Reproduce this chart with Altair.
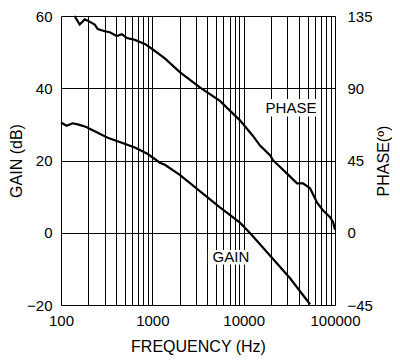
import altair as alt
import pandas as pd

# Gain curve (Hz, dB)
gain_freq = [100, 115, 134, 152, 173, 191, 217, 279, 325, 463, 643, 893, 1208, 1371,
             2000, 3313, 5495, 9100, 11720, 19410, 32200, 53300]
gain_db = [30.5, 29.6, 30.3, 30.0, 29.6, 29.2, 28.5, 27.1, 26.3, 24.9, 23.6, 21.8, 19.4, 18.8,
           16.0, 11.5, 7.0, 2.8, -0.1, -6.3, -12.6, -19.8]

# Phase curve (Hz, degrees)
phase_freq = [141, 160, 182, 196, 234, 253, 301, 342, 408, 463, 526, 643, 828, 987, 1208, 1371,
              2000, 3313, 5495, 9100, 12650, 15100, 19410, 20940, 29850, 38390, 44670, 53300,
              63700, 74100, 88300, 95300, 100000]
phase_deg = [135.0, 129.7, 132.9, 132.1, 129.7, 126.9, 125.5, 124.9, 122.5, 123.7, 121.3, 120.1,
             117.6, 114.6, 111.0, 108.6, 100.1, 90.5, 82.1, 70.0, 60.3, 54.3, 48.3, 45.2, 36.8,
             30.8, 30.8, 27.7, 18.7, 13.9, 9.7, 6.6, 1.8]

# Annotations
label_text = ["PHASE", "GAIN"]
label_freq = [33000, 7260]
label_db = [34.6, -6.7]
box_f1 = [15900, 4060]
box_f2 = [68700, 12970]
box_y1 = [32.2, -8.8]
box_y2 = [37.0, -4.8]

x_ticks = [m * d for d in [100, 1000, 10000] for m in range(1, 10)] + [100000]
gain_ticks = [-20, 0, 20, 40, 60]
phase_ticks = [-45, 0, 45, 90, 135]

FONT = "Liberation Sans, Arial, Helvetica, sans-serif"
H = 289

gain_df = pd.DataFrame({"f": gain_freq, "v": gain_db})
phase_df = pd.DataFrame({"f": phase_freq, "v": phase_deg})
lab_df = pd.DataFrame({"t": label_text, "f": label_freq, "v": label_db,
                       "f1": box_f1, "f2": box_f2, "y1": box_y1, "y2": box_y2})

x_scale = alt.Scale(type="log", domain=[100, 100000], nice=False)

x_enc = alt.X("f:Q", scale=x_scale,
              axis=alt.Axis(values=x_ticks, grid=True, gridColor="black", gridOpacity=1,
                            gridWidth=1, ticks=False, domain=False, format="d",
                            labelExpr="indexof([100,1000,10000,100000], datum.value) >= 0 ? datum.label : ''",
                            labelFlush=False, labelOverlap=False, labelPadding=8,
                            labelFontSize=15, labelFont=FONT, labelColor="black",
                            title="FREQUENCY (Hz)", titleFontSize=16, titleFont=FONT,
                            titleFontWeight="normal", titleColor="black",
                            titleY=41, titleBaseline="middle"))

y_gain_scale = alt.Scale(domain=[-20, 60], nice=False)

gain_line = alt.Chart(gain_df).mark_line(color="black", strokeWidth=2.2).encode(
    x=x_enc,
    y=alt.Y("v:Q", scale=y_gain_scale,
            axis=alt.Axis(values=gain_ticks, grid=True, gridColor="black", gridOpacity=1,
                          gridWidth=1, ticks=False, domain=False, labelFlush=False,
                          labelPadding=9, labelFontSize=15, labelFont=FONT, labelColor="black",
                          title="GAIN (dB)", titleFontSize=16, titleFont=FONT,
                          titleFontWeight="normal", titleColor="black",
                          titleX=-45, titleY=H / 2, titleBaseline="middle")),
)

boxes = alt.Chart(lab_df).mark_rect(color="white").encode(
    x=alt.X("f1:Q", scale=x_scale),
    x2="f2:Q",
    y=alt.Y("y1:Q", scale=y_gain_scale),
    y2="y2:Q",
)

labels = alt.Chart(lab_df).mark_text(fontSize=15, font=FONT, color="black").encode(
    x=alt.X("f:Q", scale=x_scale),
    y=alt.Y("v:Q", scale=y_gain_scale),
    text="t:N",
)

phase_line = alt.Chart(phase_df).mark_line(color="black", strokeWidth=2.2).encode(
    x=x_enc,
    y=alt.Y("v:Q", scale=alt.Scale(domain=[-45, 135], nice=False),
            axis=alt.Axis(orient="right", values=phase_ticks, grid=False, ticks=False,
                          domain=False, labelFlush=False, labelPadding=12, labelFontSize=15,
                          labelFont=FONT, labelColor="black",
                          title="PHASE(º)", titleFontSize=16, titleFont=FONT,
                          titleFontWeight="normal", titleColor="black",
                          titleAngle=270, titleX=48, titleY=H / 2, titleBaseline="middle")),
)

chart = alt.layer(alt.layer(gain_line, boxes, labels), phase_line).resolve_scale(
    y="independent"
).properties(
    width=274, height=H,
    autosize=alt.AutoSizeParams(type="none"),
    padding={"left": 53, "top": 8, "right": 57, "bottom": 51},
).configure_view(stroke="black", strokeWidth=1).configure(background="white")

chart.save("out.html", embed_options={"renderer": "svg", "actions": False})
